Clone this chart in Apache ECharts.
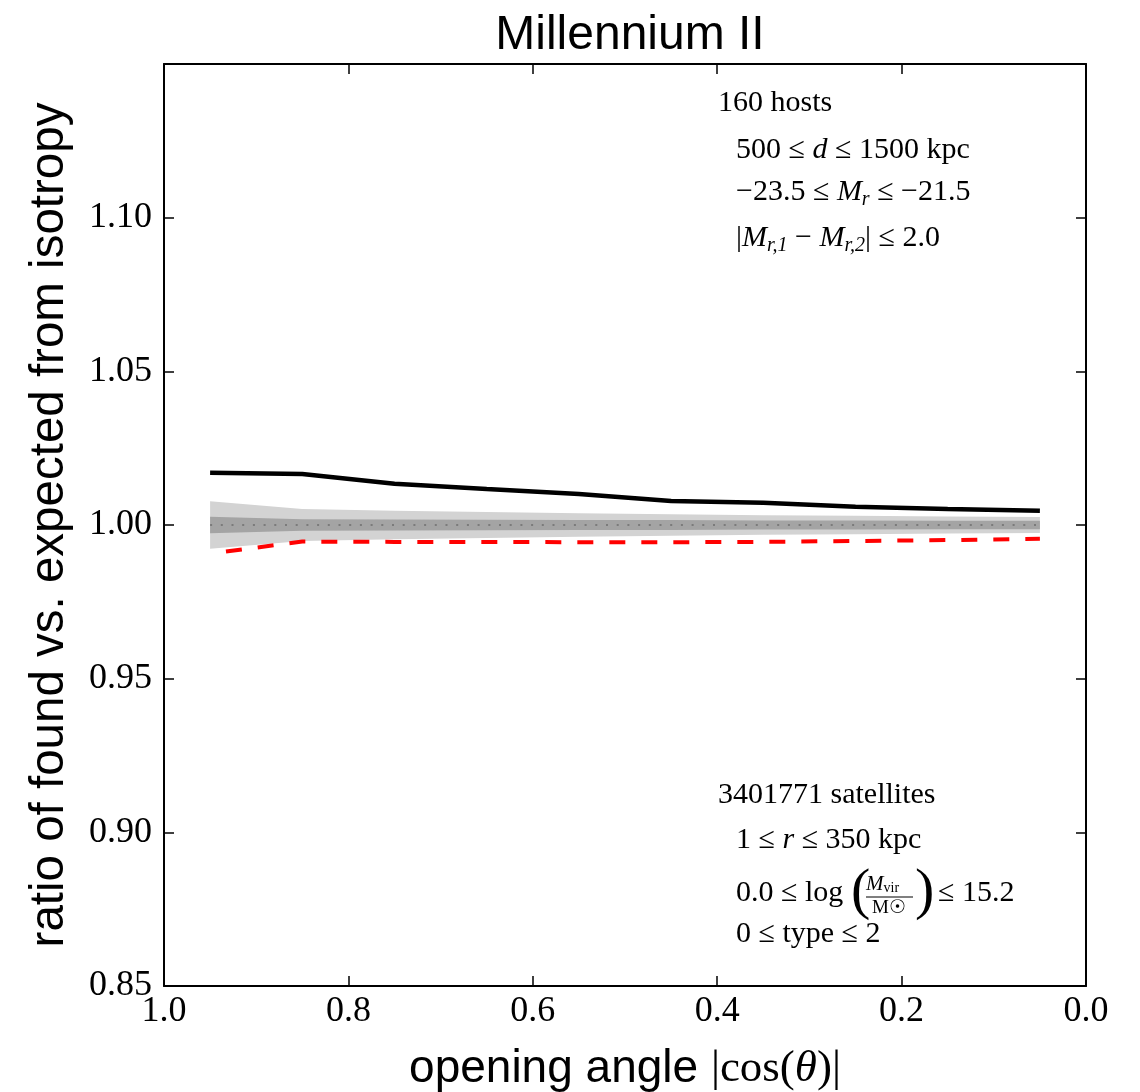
<!DOCTYPE html>
<html style="height: 100%">
<head>
  <meta charset="utf-8">
</head>
<body style="height: 100%; margin: 0; background: #fff">
  <div id="main" style="width: 1140px; height: 1092px"></div>
  <script src="https://cdn.jsdelivr.net/npm/echarts@6/dist/echarts.min.js"></script>
  <script type="text/javascript">
  // bin centres of |cos(theta)|
  var cosTheta = [0.95, 0.85, 0.75, 0.65, 0.55, 0.45, 0.35, 0.25, 0.15, 0.05];
  // found / expected, Millennium II sample
  var ratioFound = [1.0170, 1.0166, 1.0134, 1.0117, 1.0101, 1.0078, 1.0072, 1.0059, 1.0052, 1.0046];
  // red dashed comparison
  var ratioRandom = [0.9907, 0.9946, 0.9945, 0.9945, 0.9944, 0.9944, 0.9945, 0.9948, 0.9951, 0.9955];
  // isotropy scatter half widths around 1.0
  var bandOuter = [0.0077, 0.0052, 0.0046, 0.0042, 0.0038, 0.0035, 0.0032, 0.0030, 0.0028, 0.0026];
  var bandInner = [0.0027, 0.0019, 0.0018, 0.0017, 0.0016, 0.0016, 0.0015, 0.0015, 0.0014, 0.0014];

  var serif = 'Liberation Serif';
  var sans = 'Liberation Sans';

  function band(half, color) {
    return {
      type: 'custom',
      silent: true,
      z: 1,
      data: cosTheta.map(function (c, i) { return [c, 1 + half[i], 1 - half[i]]; }),
      encode: { x: 0, y: [1, 2] },
      renderItem: function (params, api) {
        if (params.dataIndex !== 0) return;
        var up = cosTheta.map(function (c, i) { return api.coord([c, 1 + half[i]]); });
        var lo = cosTheta.map(function (c, i) { return api.coord([c, 1 - half[i]]); }).reverse();
        return { type: 'polygon', shape: { points: up.concat(lo) }, style: { fill: color } };
      }
    };
  }

  var fs = 30;
  var txt = { fontFamily: serif, fontSize: fs, lineHeight: 36, fill: '#000' };
  var rich = {
    n: { fontFamily: serif, fontSize: fs, lineHeight: 36 },
    i: { fontFamily: serif, fontSize: fs, fontStyle: 'italic', lineHeight: 36 },
    s: { fontFamily: serif, fontSize: 20, fontStyle: 'italic', lineHeight: 20, verticalAlign: 'bottom' }
  };
  function label(x, y, text) {
    return { type: 'text', x: x, y: y, z: 10,
      style: Object.assign({}, txt, { text: text, rich: rich, verticalAlign: 'middle', align: 'left' }) };
  }

  function frame(pos, isX) {
    var ax = {
      type: 'value', position: pos,
      axisLine: { onZero: false, lineStyle: { color: '#000', width: 2 } },
      axisTick: { inside: true, length: 10, lineStyle: { color: '#000', width: 1.5 } },
      splitLine: { show: false }, axisLabel: { show: false }
    };
    if (isX) { ax.min = 0; ax.max = 1; ax.interval = 0.2; ax.inverse = true; }
    else { ax.min = 0.85; ax.max = 1.15; ax.interval = 0.05; }
    return ax;
  }

  var xMain = frame('bottom', true);
  xMain.axisLabel = { color: '#000', fontFamily: serif, fontSize: 36, margin: 8,
    formatter: function (v) { return v.toFixed(1); } };
  xMain.name = '{a|opening angle }{b||cos(}{c|θ}{b|)|}';
  xMain.nameLocation = 'middle';
  xMain.nameGap = 60;
  xMain.nameTextStyle = { rich: {
    a: { fontFamily: sans, fontSize: 46, color: '#000' },
    b: { fontFamily: serif, fontSize: 45, color: '#000' },
    c: { fontFamily: serif, fontSize: 45, fontStyle: 'italic', color: '#000' }
  } };

  var yMain = frame('left', false);
  yMain.axisLabel = { color: '#000', fontFamily: serif, fontSize: 36, margin: 12, showMaxLabel: false,
    formatter: function (v) { return v > 1.12 ? '' : v.toFixed(2); } };
  yMain.name = 'ratio of found vs. expected from isotropy';
  yMain.nameLocation = 'middle';
  yMain.nameGap = 90;
  yMain.nameTextStyle = { fontFamily: sans, fontSize: 47.5, color: '#000' };

  var dom = document.getElementById('main');
  var myChart = echarts.init(dom);
  var option = {
    backgroundColor: '#fff',
    animation: false,
    title: {
      text: 'Millennium II',
      left: 625,
      textAlign: 'center',
      top: 7,
      textStyle: { fontFamily: sans, fontSize: 48, fontWeight: 'normal', color: '#000' }
    },
    grid: { left: 164, right: 54, top: 64, bottom: 106, outerBoundsMode: 'none' },
    xAxis: [xMain, frame('top', true)],
    yAxis: [yMain, frame('right', false)],
    series: [
      band(bandOuter, '#d3d3d3'),
      band(bandInner, '#a4a4a4'),
      {
        type: 'line', z: 3, symbol: 'none', silent: true,
        data: cosTheta.map(function (c) { return [c, 1]; }),
        lineStyle: { color: '#7b7b7b', width: 2, type: [2, 8.7] }
      },
      {
        type: 'line', z: 4, symbol: 'none', silent: true,
        data: cosTheta.map(function (c, i) { return [c, ratioFound[i]]; }),
        lineStyle: { color: '#000', width: 4.5 }
      },
      {
        type: 'line', z: 4, symbol: 'none', silent: true,
        data: cosTheta.map(function (c, i) { return [c, ratioRandom[i]]; }),
        lineStyle: { color: '#ff0000', width: 4, type: [16, 16], dashOffset: 16 }
      }
    ],
    graphic: [
      label(718, 103, '{n|160 hosts}'),
      label(736, 150, '{n|500 ≤ }{i|d}{n| ≤ 1500 kpc}'),
      label(736, 192, '{n|−23.5 ≤ }{i|M}{s|r}{n| ≤ −21.5}'),
      label(736, 238, '{n||}{i|M}{s|r,1}{n| − }{i|M}{s|r,2}{n|| ≤ 2.0}'),
      label(718, 795, '{n|3401771 satellites}'),
      label(736, 840, '{n|1 ≤ }{i|r}{n| ≤ 350 kpc}'),
      label(736, 893, '{n|0.0 ≤ log}'),
      { type: 'text', x: 851, y: 893, z: 10,
        style: { text: '(', fontFamily: serif, fontSize: 58, fill: '#000', verticalAlign: 'middle' } },
      { type: 'text', x: 866, y: 884, z: 10,
        style: { text: '{a|M}{b|vir}', fontFamily: serif, verticalAlign: 'middle', fill: '#000',
          rich: {
            a: { fontFamily: serif, fontSize: 21, fontStyle: 'italic', lineHeight: 22 },
            b: { fontFamily: serif, fontSize: 14, lineHeight: 14, verticalAlign: 'bottom' }
          } } },
      { type: 'line', z: 10, shape: { x1: 866, y1: 897, x2: 913, y2: 897 },
        style: { stroke: '#000', lineWidth: 1.2 } },
      { type: 'text', x: 889, y: 908, z: 10,
        style: { text: 'M☉', fontFamily: serif, fontSize: 19, fill: '#000', align: 'center', verticalAlign: 'middle' } },
      { type: 'text', x: 915, y: 893, z: 10,
        style: { text: ')', fontFamily: serif, fontSize: 58, fill: '#000', verticalAlign: 'middle' } },
      label(938, 893, '{n|≤ 15.2}'),
      label(736, 934, '{n|0 ≤ type ≤ 2}')
    ]
  };
  myChart.setOption(option, true);
  </script>
</body>
</html>
